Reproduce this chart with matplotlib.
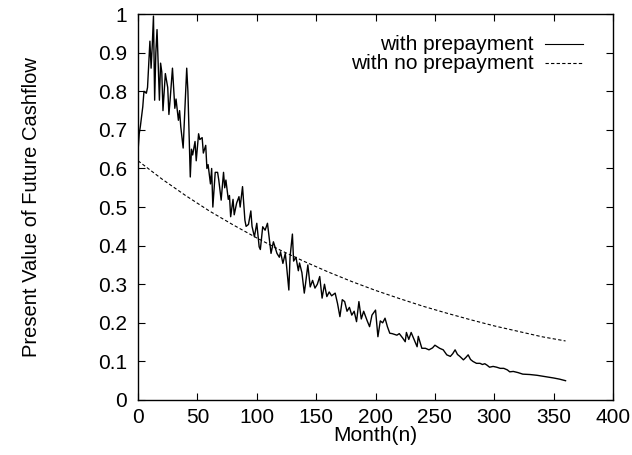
import matplotlib
matplotlib.use("Agg")
import matplotlib.pyplot as plt
import numpy as np

plt.rcParams['font.family'] = ['Liberation Sans', 'DejaVu Sans']

# with prepayment
months_pre = [0, 1, 2, 4, 5, 7, 8, 10, 11, 12, 13, 14, 15, 16, 18, 19, 20, 21, 23, 25, 26,
              27, 29, 31, 32, 34, 35, 36, 38, 39, 41, 42, 44, 45, 46, 48, 49, 51, 52, 54, 55,
              57, 58, 59, 61, 62, 63, 64, 65, 67, 68, 70, 72, 73, 74, 76, 77, 78, 80, 81, 83,
              85, 86, 88, 90, 91, 93, 95, 96, 98, 100, 102, 103, 105, 107, 109, 112, 114, 117, 119, 120,
              122, 124, 125, 127, 128, 130, 131, 133, 135, 136, 138, 140, 141, 143, 145, 147, 149, 151, 153, 155,
              157, 159, 161, 163, 166, 168, 170, 172, 174, 176, 178, 180, 182, 184, 186, 188, 190, 193, 195, 197,
              200, 202, 204, 206, 208, 210, 212, 214, 216, 218, 220, 223, 225, 226, 228, 230, 232, 235, 236, 239,
              242, 245, 248, 250, 252, 254, 257, 260, 263, 265, 267, 269, 271, 274, 276, 278, 280, 282, 285, 288,
              290, 292, 294, 296, 299, 302, 305, 308, 311, 313, 316, 320, 324, 330, 336, 344, 350, 355, 360]
pv_pre = [0.645, 0.69, 0.71, 0.76, 0.80, 0.795, 0.81, 0.93, 0.86, 0.92, 0.995, 0.777, 0.90, 0.96, 0.777, 0.873, 0.85, 0.75, 0.846, 0.81, 0.74,
          0.777, 0.86, 0.756, 0.78, 0.725, 0.75, 0.708, 0.653, 0.72, 0.86, 0.80, 0.578, 0.65, 0.635, 0.67, 0.62, 0.69, 0.675, 0.68, 0.64,
          0.66, 0.60, 0.61, 0.56, 0.60, 0.50, 0.545, 0.59, 0.59, 0.57, 0.518, 0.59, 0.55, 0.57, 0.52, 0.53, 0.475, 0.52, 0.48, 0.51,
          0.527, 0.50, 0.553, 0.466, 0.45, 0.455, 0.49, 0.45, 0.423, 0.458, 0.397, 0.39, 0.449, 0.44, 0.458, 0.38, 0.41, 0.38, 0.37, 0.384,
          0.354, 0.38, 0.35, 0.285, 0.37, 0.43, 0.36, 0.37, 0.335, 0.355, 0.33, 0.277, 0.30, 0.35, 0.293, 0.31, 0.29, 0.30, 0.32, 0.264,
          0.30, 0.268, 0.28, 0.27, 0.277, 0.25, 0.216, 0.26, 0.255, 0.23, 0.24, 0.22, 0.23, 0.203, 0.255, 0.21, 0.23, 0.205, 0.19, 0.22,
          0.233, 0.164, 0.205, 0.20, 0.212, 0.19, 0.173, 0.172, 0.17, 0.168, 0.172, 0.16, 0.151, 0.175, 0.157, 0.175, 0.16, 0.138, 0.165, 0.134,
          0.134, 0.13, 0.135, 0.142, 0.138, 0.134, 0.13, 0.117, 0.113, 0.12, 0.13, 0.118, 0.113, 0.104, 0.11, 0.117, 0.105, 0.10, 0.095, 0.095,
          0.092, 0.094, 0.09, 0.085, 0.087, 0.085, 0.082, 0.082, 0.078, 0.073, 0.074, 0.071, 0.067, 0.066, 0.064, 0.06, 0.057, 0.054, 0.05]

# with no prepayment
months_nopre = [0, 20, 40, 60, 80, 100, 120, 140, 160, 180, 200, 220, 240, 260, 280, 300, 320, 340, 360]
pv_nopre = [0.620, 0.573, 0.530, 0.490, 0.454, 0.420, 0.388, 0.359, 0.332, 0.307, 0.284, 0.263, 0.243,
            0.225, 0.208, 0.192, 0.178, 0.164, 0.153]

labels = ['with prepayment', 'with no prepayment']
yticks = [0, 0.1, 0.2, 0.3, 0.4, 0.5, 0.6, 0.7, 0.8, 0.9, 1]
ytick_labels = ['0', '0.1', '0.2', '0.3', '0.4', '0.5', '0.6', '0.7', '0.8', '0.9', '1']

fs = 15

fig = plt.figure(figsize=(6.32, 4.55), dpi=100)
ax = fig.add_axes([0.2184, 0.1209, 0.7516, 0.848])

ax.plot(months_pre, pv_pre, '-', color='black', lw=1.0)
ax.plot(months_nopre, pv_nopre, color='black', lw=0.8, linestyle=(0, (3, 2)))

ax.set_xlim(0, 400)
ax.set_ylim(0, 1)
ax.set_xticks(range(0, 401, 50))
ax.set_yticks(yticks)
ax.set_yticklabels(ytick_labels)
ax.tick_params(direction='in', length=5, width=0.8, top=True, right=True, labelsize=fs)
ax.tick_params(axis='x', pad=6)
ax.tick_params(axis='y', pad=8)
for s in ax.spines.values():
    s.set_linewidth(1.0)

ax.set_xlabel('Month(n)', fontsize=fs)
ax.set_ylabel('Present Value of Future Cashflow', fontsize=14.5)
ax.xaxis.set_label_coords(0.5, -0.068)
ax.yaxis.set_label_coords(-0.205, 0.5)

# leyenda estilo gnuplot (texto alineado a la derecha, muestra a la derecha)
styles = ['-', (0, (3, 2))]
for i, (lab, ls) in enumerate(zip(labels, styles)):
    y = 0.922 - 0.049 * i
    ax.text(0.832, y, lab, transform=ax.transAxes, ha='right', va='center', fontsize=fs)
    ax.plot([0.857, 0.937], [y, y], transform=ax.transAxes, color='black',
            lw=0.8, linestyle=ls)

fig.savefig('out.png', dpi=100)
